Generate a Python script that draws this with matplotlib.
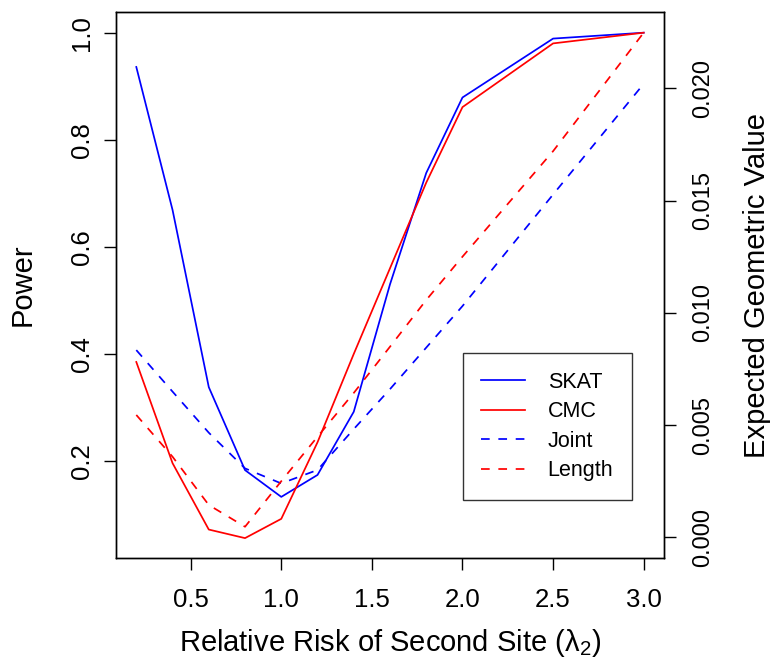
import matplotlib
matplotlib.use("Agg")
import matplotlib.pyplot as plt

plt.rcParams['font.family'] = ['Liberation Sans', 'DejaVu Sans']

# relative risk of second site
rr = [0.2, 0.4, 0.6, 0.8, 1.0, 1.2, 1.4, 1.6, 1.8, 2.0, 2.5, 3.0]
# power (left axis)
skat = [0.936, 0.669, 0.338, 0.183, 0.133, 0.174, 0.292, 0.530, 0.738, 0.879, 0.989, 1.0]
cmc = [0.385, 0.196, 0.072, 0.056, 0.092, 0.235, 0.400, 0.560, 0.720, 0.861, 0.980, 1.0]
# expected geometric value (right axis)
joint = [0.00834, 0.00649, 0.00466, 0.00307, 0.00240, 0.00300, 0.00482, 0.00660,
         0.00845, 0.01030, 0.01527, 0.02020]
length = [0.00545, 0.00359, 0.00144, 0.00047, 0.00250, 0.00448, 0.00643, 0.00849,
          0.01057, 0.01250, 0.01720, 0.02248]

W, H = 771, 662
fig = plt.figure(figsize=(W / 100, H / 100), dpi=100)
ax = fig.add_axes([116 / W, 1 - 558.3 / H, 548 / W, 546.6 / H])
ax2 = ax.twinx()

lw = 1.25
ax.plot(rr, skat, color='#0000FF', lw=lw, label='SKAT')
ax.plot(rr, cmc, color='#FF0000', lw=lw, label='CMC')
ax2.plot(rr, joint, color='#0000FF', lw=lw, dashes=(5, 5), label='Joint')
ax2.plot(rr, length, color='#FF0000', lw=lw, dashes=(5, 5), label='Length')

ax.set_xlim(0.088, 3.112)
ax.set_ylim(0.0183, 1.0392)
ax2.set_ylim(-0.000935, 0.023412)

ax.set_xticks([0.5, 1.0, 1.5, 2.0, 2.5, 3.0])
ax.set_xticklabels(['0.5', '1.0', '1.5', '2.0', '2.5', '3.0'])
ax.set_yticks([0.2, 0.4, 0.6, 0.8, 1.0])
ax.set_yticklabels(['0.2', '0.4', '0.6', '0.8', '1.0'])
ax2.set_yticks([0.000, 0.005, 0.010, 0.015, 0.020])
ax2.set_yticklabels(['0.000', '0.005', '0.010', '0.015', '0.020'])

for a in (ax, ax2):
    for s in a.spines.values():
        s.set_linewidth(1.0)
        s.set_color('black')
ax.tick_params(axis='x', length=8.6, width=1.0, pad=13, labelsize=18.5)
ax.tick_params(axis='y', length=8.6, width=1.0, pad=7, labelsize=18.5)
ax2.tick_params(axis='y', length=8.6, width=1.0, pad=12, labelsize=17)
plt.setp(ax.get_yticklabels(), rotation=90, va='center')
plt.setp(ax2.get_yticklabels(), rotation=90, va='center')

ax.set_xlabel('Relative Risk of Second Site (λ$_{\\mathregular{2}}$)', fontsize=21, va='center')
ax.xaxis.set_label_coords(0.5, (558.3 - 643) / 546.6)
ax.set_ylabel('Power', fontsize=21, va='center')
ax.yaxis.set_label_coords((23 - 116) / 548, 0.5)
ax2.set_ylabel('Expected Geometric Value', fontsize=21, va='center', rotation=90)
ax2.yaxis.set_label_coords((757 - 116) / 548, 0.5)

h1, l1 = ax.get_legend_handles_labels()
h2, l2 = ax2.get_legend_handles_labels()
leg = ax2.legend(h1 + h2, l1 + l2, loc='upper left',
                 bbox_to_anchor=(462.7 / W, 1 - 353.3 / H), bbox_transform=fig.transFigure,
                 borderaxespad=0, fontsize=15.5, frameon=True, fancybox=False,
                 edgecolor='black', handlelength=2.05, handletextpad=1.05,
                 labelspacing=0.4, borderpad=0.85)
leg.get_frame().set_linewidth(1.0)

fig.savefig('out.png', dpi=100, facecolor='white')
